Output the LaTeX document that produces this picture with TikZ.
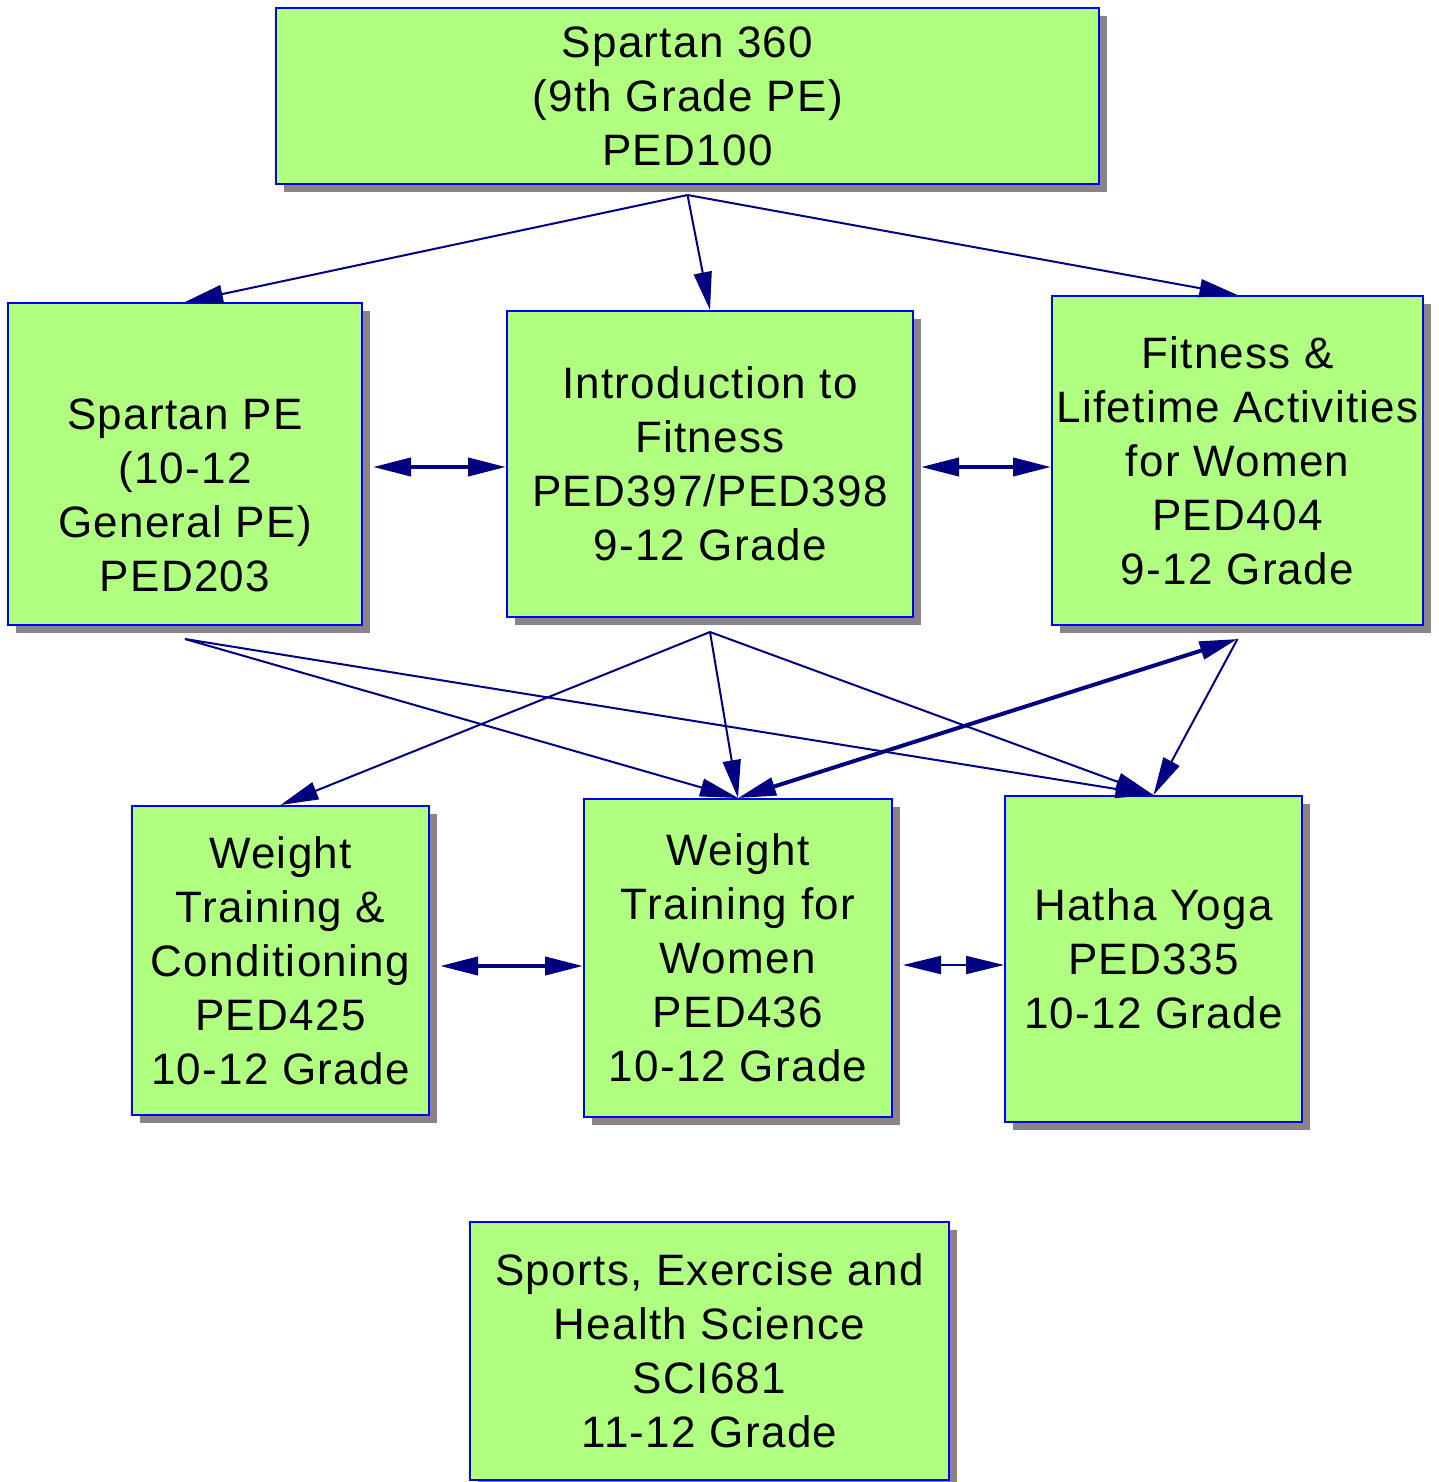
\documentclass[tikz,border=0pt]{standalone}
\usepackage{fontspec}
\setmainfont[LetterSpace=3]{Liberation Sans}
\usepackage{xcolor}
\usepackage{tikz}
\usetikzlibrary{positioning}
\usetikzlibrary{arrows.meta}
\usetikzlibrary{shadows}
\pgfdeclarelayer{nodelayer}
\pgfdeclarelayer{edgelayer}
\pgfsetlayers{nodelayer,edgelayer,main}
\definecolor{boxfill}{RGB}{176,255,128}
\definecolor{boxline}{RGB}{0,0,255}
\definecolor{edgecol}{RGB}{0,0,128}
\definecolor{shadowgray}{RGB}{140,132,132}
\tikzset{
    course/.style={draw=boxline, line width=1pt, fill=boxfill, inner sep=0pt, align=center,
        font=\fontsize{22}{27}\selectfont,
        drop shadow={shadow xshift=4pt, shadow yshift=-4pt, fill=shadowgray, opacity=1}},
    prereq/.style={draw=edgecol, line width=1pt, -{Triangle[length=19pt,width=9pt]}},
    thickprereq/.style={prereq, line width=2pt},
    both/.style={draw=edgecol, line width=1pt, {Triangle[length=19pt,width=9pt]}-{Triangle[length=19pt,width=9pt]}},
    thickboth/.style={both, line width=2pt}
}
\begin{document}
\begin{tikzpicture}[x=0.5pt, y=-0.5pt]
        \useasboundingbox (0, 0) rectangle (1439, 1482);
        \begin{pgfonlayer}{nodelayer}
            \node [course, minimum width=411.5pt, minimum height=88pt] (0) at (687.5, 96) {Spartan 360\\(9th Grade PE)\\PED100};
            \node [course, minimum width=177pt, minimum height=161pt] (1) at (185, 464) {\mbox{}\\[20pt]Spartan PE\\(10-12\\General PE)\\PED203};
            \node [course, minimum width=203pt, minimum height=153pt] (2) at (710, 464) {Introduction to\\Fitness\\PED397/PED398\\9-12 Grade};
            \node [course, minimum width=185.5pt, minimum height=164.5pt] (3) at (1237.5, 460.5) {Fitness \&\\Lifetime Activities\\for Women\\PED404\\9-12 Grade};
            \node [course, minimum width=148.5pt, minimum height=154.5pt] (4) at (280.5, 960.5) {Weight\\Training \&\\Conditioning\\PED425\\10-12 Grade};
            \node [course, minimum width=154pt, minimum height=159pt] (5) at (738, 958) {Weight\\Training for\\Women\\PED436\\10-12 Grade};
            \node [course, minimum width=148.5pt, minimum height=163pt] (6) at (1153.5, 959) {Hatha Yoga\\PED335\\10-12 Grade};
            \node [course, minimum width=239.5pt, minimum height=129pt] (7) at (709.5, 1351) {Sports, Exercise and\\Health Science\\SCI681\\11-12 Grade};
        \end{pgfonlayer}
        \begin{pgfonlayer}{edgelayer}
            \draw [prereq] ([yshift=-5pt]0.south) to (1.north);
            \draw [prereq] ([yshift=-5pt]0.south) to (2.north);
            \draw [prereq] ([yshift=-5pt]0.south) to (3.north);
            \draw [thickboth] ([xshift=5pt, yshift=-1.5pt]1.east) to ([yshift=-1.5pt]2.west);
            \draw [thickboth] ([xshift=3.5pt, yshift=-1.5pt]2.east) to ([yshift=-3.25pt]3.west);
            \draw [prereq] ([yshift=-6.5pt]1.south) to (5.north);
            \draw [prereq] ([yshift=-6.5pt]1.south) to (6.north);
            \draw [prereq] ([yshift=-7pt]2.south) to (4.north);
            \draw [prereq] ([yshift=-7pt]2.south) to (5.north);
            \draw [prereq] ([yshift=-7pt]2.south) to (6.north);
            \draw [thickboth] ([yshift=-6.5pt]3.south) to (5.north);
            \draw [prereq] ([yshift=-6.5pt]3.south) to (6.north);
            \draw [thickboth] ([xshift=5pt, yshift=-2.75pt]4.east) to ([yshift=-4pt]5.west);
            \draw [both] ([xshift=5pt, yshift=-3.5pt]5.east) to ([yshift=-3pt]6.west);
        \end{pgfonlayer}
    \end{tikzpicture}
\end{document}
